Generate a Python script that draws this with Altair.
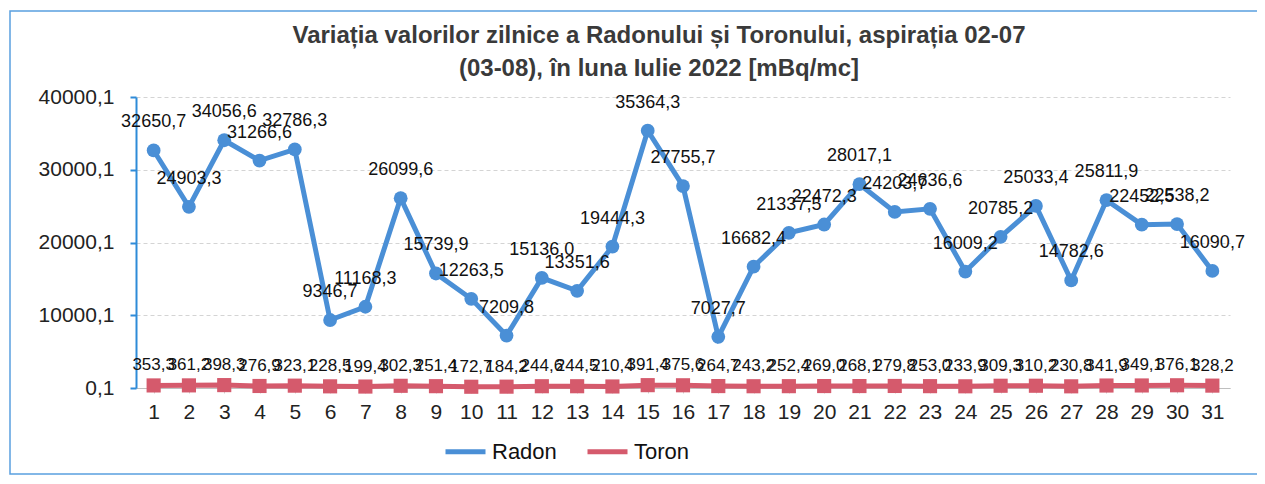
import altair as alt
import pandas as pd

days = list(range(1, 32))
radon = [32650.7, 24903.3, 34056.6, 31266.6, 32786.3, 9346.7, 11168.3, 26099.6,
         15739.9, 12263.5, 7209.8, 15136.0, 13351.6, 19444.3, 35364.3, 27755.7,
         7027.7, 16682.4, 21337.5, 22472.3, 28017.1, 24203.7, 24636.6, 16009.2,
         20785.2, 25033.4, 14782.6, 25811.9, 22452.5, 22538.2, 16090.7]
toron = [353.3, 361.2, 398.3, 276.9, 323.1, 228.5, 199.4, 302.3, 251.4, 172.7,
         184.2, 244.6, 244.5, 210.4, 391.4, 375.6, 264.7, 243.2, 252.4, 269.0,
         268.1, 279.8, 253.0, 233.9, 309.3, 310.2, 230.8, 341.9, 349.1, 376.1,
         328.2]
series = ["Radon", "Toron"]
colors = ["#4a8fd6", "#d55a6c"]
y_ticks = [0.1, 10000.1, 20000.1, 30000.1, 40000.1]
title_lines = ["Variația valorilor zilnice a Radonului și Toronului, aspirația 02-07",
               "(03-08),  în luna Iulie 2022 [mBq/mc]"]

df = pd.DataFrame({
    "day": days * 2,
    "value": radon + toron,
    "series": ["Radon"] * len(days) + ["Toron"] * len(days),
})

FONT = "Liberation Sans"
fmt = "replace(format(datum.value, '.1f'), '.', ',')"

x_enc = alt.X("day:O", scale=alt.Scale(type="point", padding=0.5),
              axis=alt.Axis(title=None, labelAngle=0, labelFontSize=21,
                            labelColor="#222222", labelFont=FONT,
                            domainColor="#bfbfbf", tickColor="#d0d0d0",
                            tickSize=5, labelPadding=8))
y_enc = alt.Y("value:Q", scale=alt.Scale(domain=[0.1, 40000.1], nice=False, zero=False),
              axis=alt.Axis(title=None, values=y_ticks, labelExpr=fmt,
                            labelFontSize=21, labelColor="#222222", labelFont=FONT,
                            domainColor="#2e8bd8", domainWidth=2, tickColor="#2e8bd8",
                            tickWidth=2, tickSize=6, labelPadding=16,
                            gridColor="#d4d4d4", gridDash=[4, 3], gridWidth=1))

base = alt.Chart(df)

lines = base.mark_line(strokeWidth=5).encode(
    x=x_enc, y=y_enc,
    color=alt.Color("series:N", scale=alt.Scale(domain=series, range=colors),
                    legend=alt.Legend(orient="none", legendX=307, legendY=332,
                                      direction="horizontal", title=None,
                                      labelFontSize=22, labelFont=FONT,
                                      labelColor="#111111", symbolStrokeWidth=5,
                                      symbolSize=1600, columnPadding=20,
                                      labelOffset=4)),
)

radon_pts = base.transform_filter(alt.datum.series == "Radon").mark_point(
    filled=True, opacity=1, size=190, shape="circle", color=colors[0]
).encode(x=x_enc, y=y_enc)

toron_pts = base.transform_filter(alt.datum.series == "Toron").mark_point(
    filled=True, opacity=1, size=200, shape="square", color=colors[1]
).encode(x=x_enc, y=y_enc)

radon_labels = base.transform_filter(alt.datum.series == "Radon").transform_calculate(
    label=fmt
).mark_text(fontSize=18, font=FONT, color="#111111", dy=-28, baseline="middle").encode(
    x=x_enc, y=y_enc, text="label:N"
)

toron_labels = base.transform_filter(alt.datum.series == "Toron").transform_calculate(
    label=fmt
).mark_text(fontSize=17, font=FONT, color="#111111", dy=-20, baseline="middle").encode(
    x=x_enc, y=y_enc, text="label:N"
)

frame = alt.Chart(pd.DataFrame({"f": [0]})).mark_rect(
    filled=False, stroke="#5aa0e0", strokeWidth=1.5
).encode(x=alt.value(-126), x2=alt.value(1123), y=alt.value(-86), y2=alt.value(377))

title = alt.Chart(pd.DataFrame({"t": ["\n".join(title_lines)]})).mark_text(
    fontSize=24, font=FONT, fontWeight="bold", color="#3a3a3a", align="center",
    baseline="middle", lineBreak="\n", lineHeight=33
).encode(text="t:N", x=alt.value(523), y=alt.value(-61))

chart = alt.layer(frame, title, lines, radon_pts, toron_pts,
                  radon_labels, toron_labels).properties(
    width=1094, height=291,
    autosize=alt.AutoSizeParams(type="none"),
    padding={"left": 128, "top": 89, "right": 27, "bottom": 88},
    background="white",
).configure_view(stroke=None)

chart.save("out.html", embed_options={"renderer": "svg", "actions": False})
